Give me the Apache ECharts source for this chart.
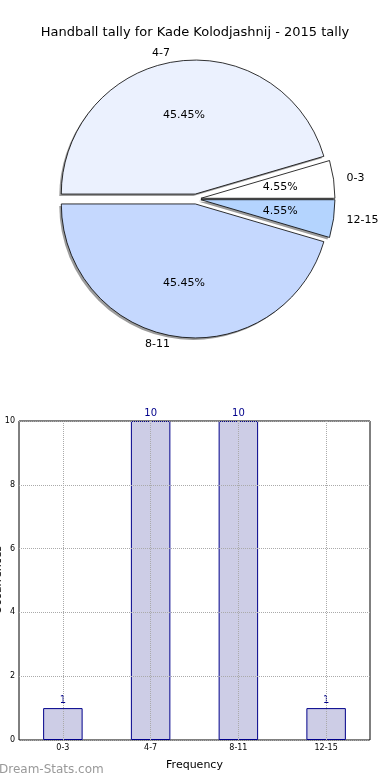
<!DOCTYPE html>
<html><head><meta charset="utf-8">
<script src="https://cdn.jsdelivr.net/npm/echarts@6/dist/echarts.min.js"></script>
<style>html,body{margin:0;padding:0;background:#fff}#c{width:390px;height:780px}</style>
</head><body><div id="c"></div>
<script>
const titleText = 'Handball tally for Kade Kolodjashnij - 2015 tally';
const categories = ['0-3', '4-7', '8-11', '12-15'];
const counts = [1, 10, 10, 1];
const pieColors = ['#ffffff', '#ebf1fe', '#c5d8fe', '#b4d4fe'];
const yMin = 0, yMax = 10, yInterval = 2;
const xName = 'Frequency';
const yName = 'Occurrences';
const watermark = 'Dream-Stats.com';

const FONT = 'DejaVu Sans';
const R = 134;
const CENTER = [196, 199];
const SHADOW_CENTER = [194, 201];
const OFFSET = 5;

const pieData = categories.map((c, i) => ({
  name: c, value: counts[i], selected: true,
  itemStyle: { color: pieColors[i] }
}));
const plainData = categories.map((c, i) => ({ name: c, value: counts[i], selected: true }));
// helper axis: points at band edges and centers, gridlines at centers
const helperCats = [''];
categories.forEach(c => { helperCats.push(c); helperCats.push(''); });

const pieCommon = {
  type: 'pie', startAngle: 0, clockwise: false,
  selectedMode: 'multiple', selectedOffset: OFFSET,
  avoidLabelOverlap: false, emphasis: { disabled: true }
};

const chart = echarts.init(document.getElementById('c'), null, { renderer: 'canvas' });
chart.setOption({
  animation: false,
  textStyle: { fontFamily: FONT },
  title: {
    text: titleText, left: 'center', top: 21,
    textStyle: { fontFamily: FONT, fontSize: 13, fontWeight: 'normal', color: '#000' }
  },
  grid: {
    left: 19, right: 20, top: 421, bottom: 40,
    outerBoundsMode: 'none', containLabel: false,
    show: true, borderColor: '#000', borderWidth: 1, backgroundColor: 'transparent'
  },
  xAxis: [{
    type: 'category', data: categories,
    axisLine: { show: false }, axisTick: { show: false },
    axisLabel: { fontSize: 8, color: '#000', margin: 4, fontFamily: FONT },
    splitLine: { show: false },
    name: xName, nameLocation: 'middle', nameGap: 20, nameMoveOverlap: false,
    nameTextStyle: { fontSize: 11, color: '#000', fontFamily: FONT }
  }, {
    type: 'category', data: helperCats, boundaryGap: false, position: 'bottom',
    axisLine: { show: false }, axisTick: { show: false }, axisLabel: { show: false },
    splitLine: { show: true, interval: (i) => i % 2 === 1,
      lineStyle: { color: '#aaaaaa', type: 'dotted', width: 1 } },
    z: 10
  }],
  yAxis: {
    type: 'value', min: yMin, max: yMax, interval: yInterval,
    axisLine: { show: false }, axisTick: { show: false },
    axisLabel: { fontSize: 8, color: '#000', margin: 4, fontFamily: FONT },
    splitLine: { show: true, lineStyle: { color: '#aaaaaa', type: 'dotted', width: 1 } },
    z: 10
  },
  series: [Object.assign({}, pieCommon, {
    center: SHADOW_CENTER, radius: R, silent: true,
    itemStyle: { color: '#9c9c9c', borderWidth: 0 },
    label: { show: false }, labelLine: { show: false },
    data: plainData, z: 1
  }), Object.assign({}, pieCommon, {
    center: CENTER, radius: R,
    itemStyle: { borderColor: '#000', borderWidth: 0.8 },
    label: { show: true, position: 'outside', formatter: '{b}', fontSize: 11, color: '#000', fontFamily: FONT },
    labelLine: { show: false, length: 8, length2: 0 },
    data: pieData, z: 2
  }), Object.assign({}, pieCommon, {
    center: CENTER, radius: R * 1.15, silent: true,
    itemStyle: { color: 'rgba(0,0,0,0)', borderWidth: 0 },
    label: { show: true, position: 'inside', formatter: '{d}%', fontSize: 11, color: '#000', fontFamily: FONT },
    labelLine: { show: false },
    data: plainData, z: 3
  }), {
    type: 'bar', xAxisIndex: 0, yAxisIndex: 0,
    data: counts, barWidth: '45%',
    itemStyle: { color: '#cdcde6', borderColor: '#00008b', borderWidth: 1 },
    label: { show: true, position: 'top', distance: 3, fontSize: 10, color: '#00008b', fontFamily: FONT },
    z: 2
  }],
  graphic: [{
    type: 'text', left: -1, top: 764,
    style: { text: watermark, fill: '#999', font: '12px "DejaVu Sans"' }
  }, {
    type: 'text', x: -2, y: 580, rotation: Math.PI / 2,
    style: { text: yName, fill: '#000', font: '11px "DejaVu Sans"', align: 'center', verticalAlign: 'middle' }
  }]
});
</script>
</body></html>
